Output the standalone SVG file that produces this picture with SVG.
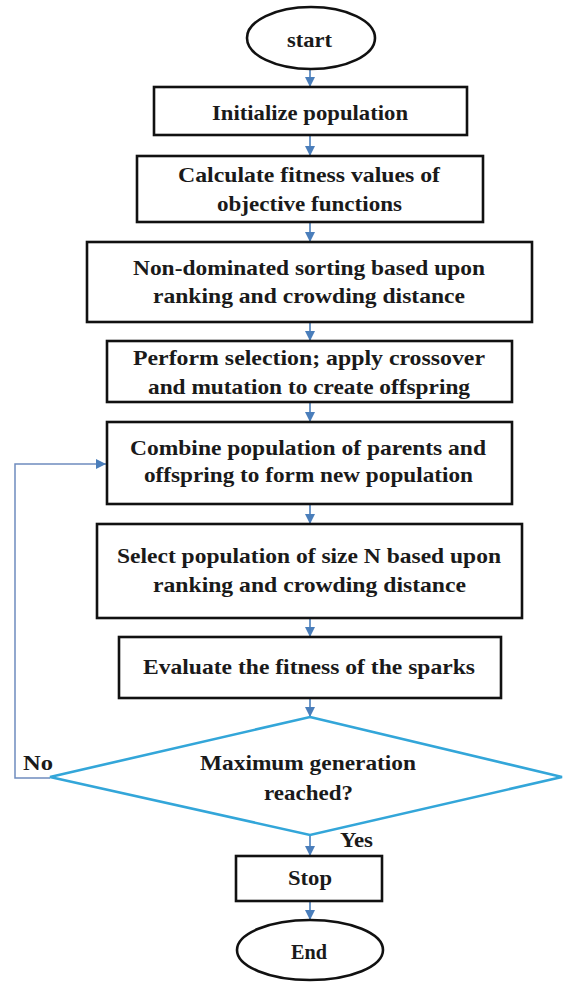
<svg xmlns="http://www.w3.org/2000/svg" width="564" height="982" viewBox="0 0 564 982">
<style>
.box{fill:#fff;stroke:#111;stroke-width:2.6}
.t{font-family:"Liberation Serif","Times New Roman",serif;font-weight:bold;font-size:21px;fill:#1a1a1a}
.c{fill:none;stroke:#4a7ebb;stroke-width:1.6}
.fb{fill:none;stroke:#6f8cbf;stroke-width:1.5}
.dia{fill:#fff;stroke:#33a6d9;stroke-width:2.6}
</style>
<defs>
<marker id="ah" markerUnits="userSpaceOnUse" markerWidth="10" markerHeight="10" viewBox="0 0 10 10" refX="10" refY="5" orient="auto">
<path d="M0,0 L10,5 L0,10 Z" fill="#4a7ebb"/>
</marker>
</defs>
<rect width="564" height="982" fill="#fff"/>
<g id="connectors">
<path class="c" d="M310 69 V87" marker-end="url(#ah)"/>
<path class="c" d="M310 135 V156" marker-end="url(#ah)"/>
<path class="c" d="M310 222 V242" marker-end="url(#ah)"/>
<path class="c" d="M310 322 V341" marker-end="url(#ah)"/>
<path class="c" d="M310 402 V422" marker-end="url(#ah)"/>
<path class="c" d="M310 504 V524" marker-end="url(#ah)"/>
<path class="c" d="M310 618 V637" marker-end="url(#ah)"/>
<path class="c" d="M310 698 V717" marker-end="url(#ah)"/>
<path class="c" d="M310 835 V856" marker-end="url(#ah)"/>
<path class="c" d="M310 901 V920" marker-end="url(#ah)"/>
<path class="fb" d="M50 778 H15 V464 H106" marker-end="url(#ah)"/>
<text class="t" x="23" y="770" textLength="30" lengthAdjust="spacingAndGlyphs">No</text>
<text class="t" x="340" y="847" textLength="33" lengthAdjust="spacingAndGlyphs">Yes</text>
</g>
<g id="start">
<ellipse class="box" cx="311" cy="38" rx="64" ry="31"/>
<text class="t" x="287" y="47" textLength="45" lengthAdjust="spacingAndGlyphs">start</text>
</g>
<g id="init">
<rect class="box" x="154" y="87" width="313" height="48"/>
<text class="t" x="212" y="120" textLength="196" lengthAdjust="spacingAndGlyphs">Initialize population</text>
</g>
<g id="calc">
<rect class="box" x="137" y="156" width="346" height="66"/>
<text class="t" x="178" y="182" textLength="262" lengthAdjust="spacingAndGlyphs">Calculate fitness values of</text>
<text class="t" x="217" y="211" textLength="185" lengthAdjust="spacingAndGlyphs">objective functions</text>
</g>
<g id="nondom">
<rect class="box" x="87" y="242" width="445" height="80"/>
<text class="t" x="133" y="275" textLength="352" lengthAdjust="spacingAndGlyphs">Non-dominated sorting based upon</text>
<text class="t" x="153" y="303" textLength="312" lengthAdjust="spacingAndGlyphs">ranking and crowding distance</text>
</g>
<g id="perform">
<rect class="box" x="107" y="341" width="405" height="61"/>
<text class="t" x="133" y="365" textLength="352" lengthAdjust="spacingAndGlyphs">Perform selection; apply crossover</text>
<text class="t" x="148" y="394" textLength="322" lengthAdjust="spacingAndGlyphs">and mutation to create offspring</text>
</g>
<g id="combine">
<rect class="box" x="107" y="422" width="405" height="82"/>
<text class="t" x="130" y="455" textLength="356" lengthAdjust="spacingAndGlyphs">Combine population of parents and</text>
<text class="t" x="144" y="482" textLength="329" lengthAdjust="spacingAndGlyphs">offspring to form new population</text>
</g>
<g id="select">
<rect class="box" x="97" y="524" width="425" height="94"/>
<text class="t" x="117" y="563" textLength="384" lengthAdjust="spacingAndGlyphs">Select population of size N based upon</text>
<text class="t" x="153" y="592" textLength="313" lengthAdjust="spacingAndGlyphs">ranking and crowding distance</text>
</g>
<g id="evaluate">
<rect class="box" x="119" y="637" width="382" height="61"/>
<text class="t" x="143" y="674" textLength="332" lengthAdjust="spacingAndGlyphs">Evaluate the fitness of the sparks</text>
</g>
<g id="decision">
<polygon class="dia" points="310,717 562,777 310,835 50,777"/>
<text class="t" x="200" y="770" textLength="216" lengthAdjust="spacingAndGlyphs">Maximum generation</text>
<text class="t" x="264" y="800" textLength="89" lengthAdjust="spacingAndGlyphs">reached?</text>
</g>
<g id="stop">
<rect class="box" x="236" y="856" width="146" height="45"/>
<text class="t" x="288" y="885" textLength="44" lengthAdjust="spacingAndGlyphs">Stop</text>
</g>
<g id="end">
<ellipse class="box" cx="310" cy="950" rx="73" ry="30"/>
<text class="t" x="291" y="959" textLength="36" lengthAdjust="spacingAndGlyphs">End</text>
</g>
</svg>
